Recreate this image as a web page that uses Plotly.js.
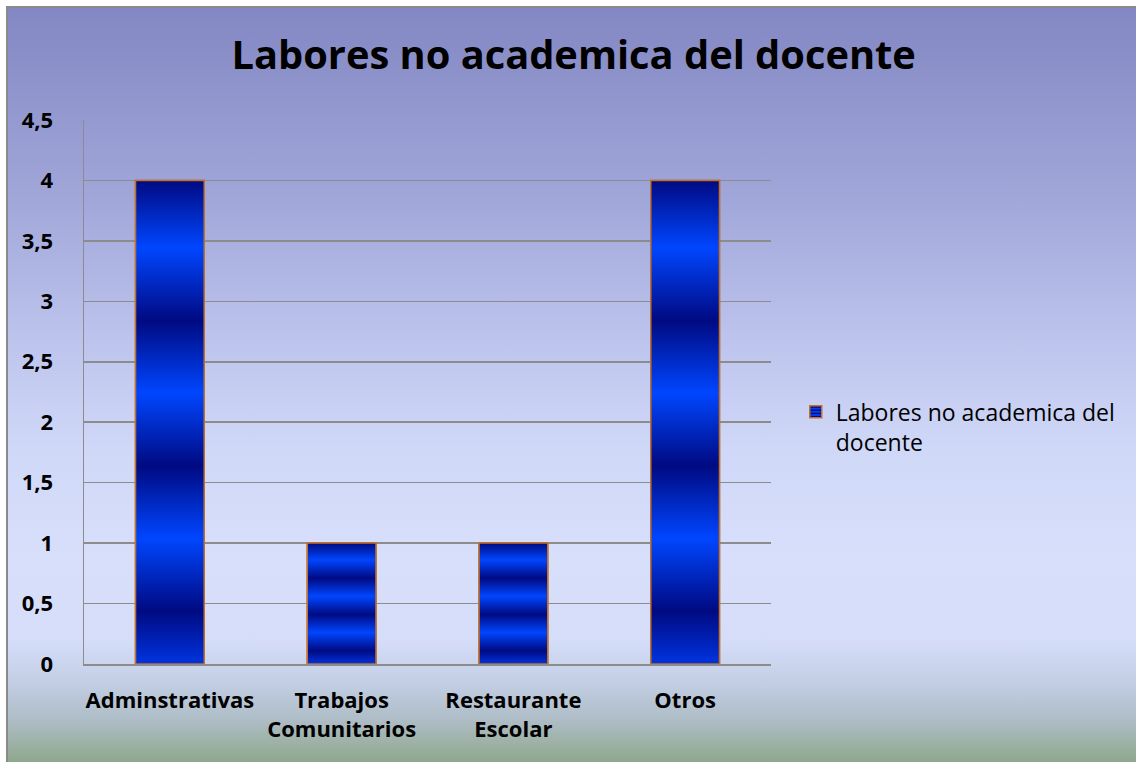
<!DOCTYPE html>
<html><head><meta charset="utf-8">
<script src="https://cdn.plot.ly/plotly-3.0.1.min.js"></script>
<style>
html,body{margin:0;padding:0;overflow:hidden;background:#ffffff;}
#bg{position:absolute;left:6px;top:6px;width:1140px;height:770px;border-left:2px solid #8a8a8a;border-top:2px solid #8a8a8a;
background:linear-gradient(to bottom,#8387c3 0px,#a1a7d9 192px,#bfc6ee 342px,#d0d8f8 442px,#d7dffb 552px,#d5ddf9 632px,#c4cfe6 672px,#aebdc6 712px,#8fa88c 754px);}
#chart{position:absolute;left:0;top:0;width:1136px;height:762px;}
</style></head><body>
<div id="bg"></div><div id="chart"></div>
<script>
// ---- data ----
const categories = ["Adminstrativas", "Trabajos Comunitarios", "Restaurante Escolar", "Otros"];
const values = [4, 1, 1, 4];
const seriesName = "Labores no academica del docente";
const yTickVals = [0, 0.5, 1, 1.5, 2, 2.5, 3, 3.5, 4, 4.5];
const yTickText = ["0", "0,5", "1", "1,5", "2", "2,5", "3", "3,5", "4", "4,5"];

// ---- styling ----
const BAR_W = 0.4;
const OUTLINE = '#c0702a';
const NAVY = '#000a82', BRIGHT = '#0046ff';
const stripeScale = [[0,'#0034e0'],[0.11,NAVY],[0.26,BRIGHT],[0.41,NAVY],[0.56,BRIGHT],[0.71,NAVY],[0.86,BRIGHT],[1,NAVY]];
const FONT = '"Open Sans", Lato, sans-serif';

const xIdx = categories.map((c, i) => i);
const xLabels = categories.map(c => c.replace(' ', '<br>'));
const legendName = seriesName.replace(/ (\S+)$/, '<br>$1');

const barTrace = {
  type: 'bar', x: xIdx, y: values, width: BAR_W, name: legendName,
  marker: { color: '#0030d0', line: { color: OUTLINE, width: 1.5 },
            pattern: { shape: '-', fgcolor: NAVY, bgcolor: '#0040f0', size: 4, solidity: 0.45 } },
  hoverinfo: 'y'
};
// gradient overlay drawn on each bar (same data, scaled by the axes)
const overlays = values.map((v, i) => ({
  type: 'scatter', mode: 'lines', showlegend: false, hoverinfo: 'skip',
  x: [xIdx[i] - BAR_W / 2, xIdx[i] - BAR_W / 2, xIdx[i] + BAR_W / 2, xIdx[i] + BAR_W / 2, xIdx[i] - BAR_W / 2],
  y: [0, v, v, 0, 0],
  fill: 'toself', fillgradient: { type: 'vertical', colorscale: stripeScale },
  line: { color: OUTLINE, width: 1.5 }
}));

const layout = {
  width: 1136, height: 762,
  paper_bgcolor: 'rgba(0,0,0,0)', plot_bgcolor: 'rgba(0,0,0,0)',
  margin: { l: 84, r: 365, t: 120, b: 98 },
  title: { text: seriesName, x: 0.505, xanchor: 'center', y: 0.928, yanchor: 'middle',
           font: { family: FONT, size: 39.8, color: '#000000', weight: 'bold' } },
  xaxis: { range: [-0.5, 3.5], tickmode: 'array', tickvals: xIdx, ticktext: xLabels,
           showgrid: false, zeroline: false, showline: true, linecolor: '#8c8c8c', linewidth: 1.5,
           ticks: '', ticklabelstandoff: 16, fixedrange: true,
           tickfont: { family: FONT, size: 22, color: '#000000', weight: 'bold' } },
  yaxis: { range: [0, 4.5], tickmode: 'array', tickvals: yTickVals, ticktext: yTickText,
           showgrid: true, gridcolor: '#8c8c8c', gridwidth: 1.5, zeroline: false,
           showline: true, linecolor: '#8c8c8c', linewidth: 1.5,
           ticks: '', ticklabelstandoff: 25, fixedrange: true,
           tickfont: { family: FONT, size: 22, color: '#000000', weight: 'bold' } },
  legend: { x: 1.036, xanchor: 'left', y: 0.503, yanchor: 'top', valign: 'top',
            bgcolor: 'rgba(0,0,0,0)', font: { family: FONT, size: 23, color: '#000000' } },
  showlegend: true
};

Plotly.newPlot('chart', [barTrace].concat(overlays), layout, { displayModeBar: false, staticPlot: true });
</script>
</body></html>
